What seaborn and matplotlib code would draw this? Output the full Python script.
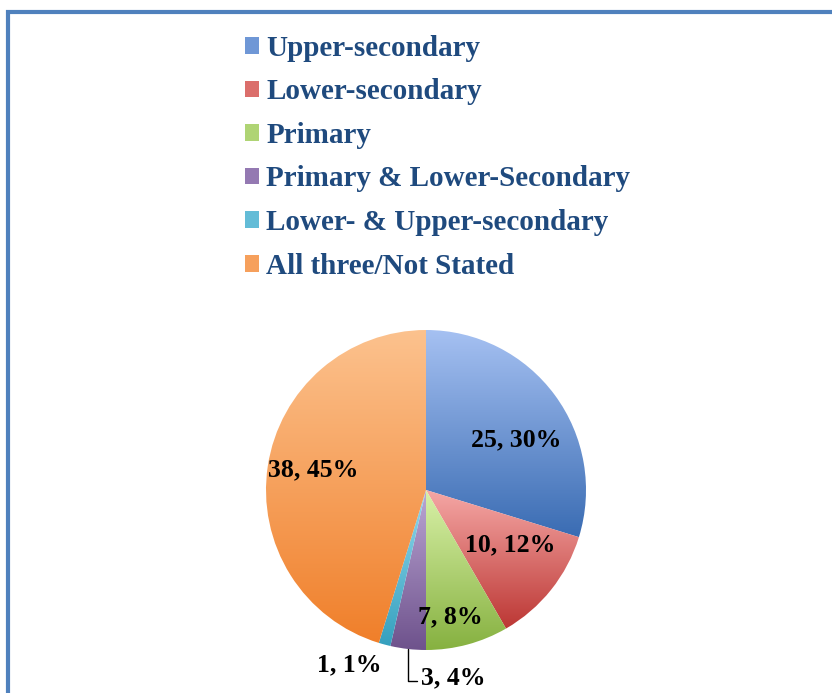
import numpy as np
import matplotlib
matplotlib.use("Agg")
import matplotlib.pyplot as plt
import seaborn as sns
from matplotlib.patches import Patch, Rectangle
from matplotlib.colors import LinearSegmentedColormap

# data
categories = ["Upper-secondary", "Lower-secondary", "Primary",
              "Primary & Lower-Secondary", "Lower- & Upper-secondary",
              "All three/Not Stated"]
counts = [25, 10, 7, 3, 1, 38]
light_colors = ["#A6C1F2", "#F5A7A5", "#D9F1A8", "#BBA6D4", "#92D8EC", "#FCC28E"]
dark_colors = ["#3A6CB3", "#BC3734", "#86B140", "#6E528C", "#35A0BE", "#F07F2A"]
mid_colors = ["#6F97D6", "#DB6E6B", "#AFD474", "#9479B2", "#63BCD7", "#F6A05C"]

sns.set_theme(style="white")
plt.rcParams["font.family"] = ["Liberation Serif", "DejaVu Serif"]

W, H = 832, 693
fig = plt.figure(figsize=(W / 100, H / 100), dpi=100)
ax = fig.add_axes([0, 0, 1, 1])

cx, cy, R = 426, H - 490, 160
total = sum(counts)

def fmt(pct):
    v = int(round(pct * total / 100))
    return f"{v}, {pct:.0f}%"

wedges, texts, autotexts = ax.pie(
    counts, startangle=90, counterclock=False, center=(cx, cy), radius=R,
    autopct=fmt, pctdistance=0.7, frame=True,
    textprops=dict(fontsize=18.5, fontweight="bold", color="black"),
    wedgeprops=dict(linewidth=0))
ax.set_xlim(0, W)
ax.set_ylim(0, H)
ax.set_aspect("equal")
ax.axis("off")

# gradient fill per wedge
grad = np.linspace(0, 1, 256).reshape(-1, 1)
for w, lc, dc in zip(wedges, light_colors, dark_colors):
    w.set_facecolor("none")
    pts = w.get_patch_transform().transform(w.get_path().vertices)
    x0, y0 = pts.min(axis=0)
    x1, y1 = pts.max(axis=0)
    cmap = LinearSegmentedColormap.from_list("g", [dc, lc])
    im = ax.imshow(grad, cmap=cmap, origin="lower", aspect="auto",
                   extent=(x0, x1, y0, y1), zorder=1, interpolation="bilinear")
    im.set_clip_path(w)

# label positions
autotexts[0].set_position((516, H - 440))
autotexts[1].set_position((510, H - 545))
autotexts[2].set_position((450, H - 617))
autotexts[3].set_position((453, H - 678))
autotexts[4].set_position((349, H - 665))
autotexts[5].set_position((313, H - 470))
for t in autotexts:
    t.set_zorder(5)

# leader line for the 3, 4% slice
start = np.cumsum([0] + counts)
mid = 90 - (start[3] + counts[3] / 2) / total * 360
px = cx + R * np.cos(np.radians(mid))
py = cy + R * np.sin(np.radians(mid))
ax.plot([px, px, px + 9], [py, H - 681, H - 681], color="black", lw=1, zorder=5)

# frame
ax.add_patch(Rectangle((8, -20), 900, H - 12 + 20, fill=False,
                       edgecolor="#4F81BD", lw=3, clip_on=False, zorder=6))

handles = [Patch(facecolor=c, edgecolor="none") for c in mid_colors]
fig.legend(handles, categories, loc="upper left", bbox_to_anchor=(230 / W, 1 - 20 / H),
           frameon=False, borderpad=0,
           prop=dict(family=["Liberation Serif"], weight="bold", size=21),
           labelcolor="#1F4A7E", handlelength=0.5, handleheight=0.5,
           handletextpad=0.25, labelspacing=0.57)

fig.savefig("out.png", dpi=100)
